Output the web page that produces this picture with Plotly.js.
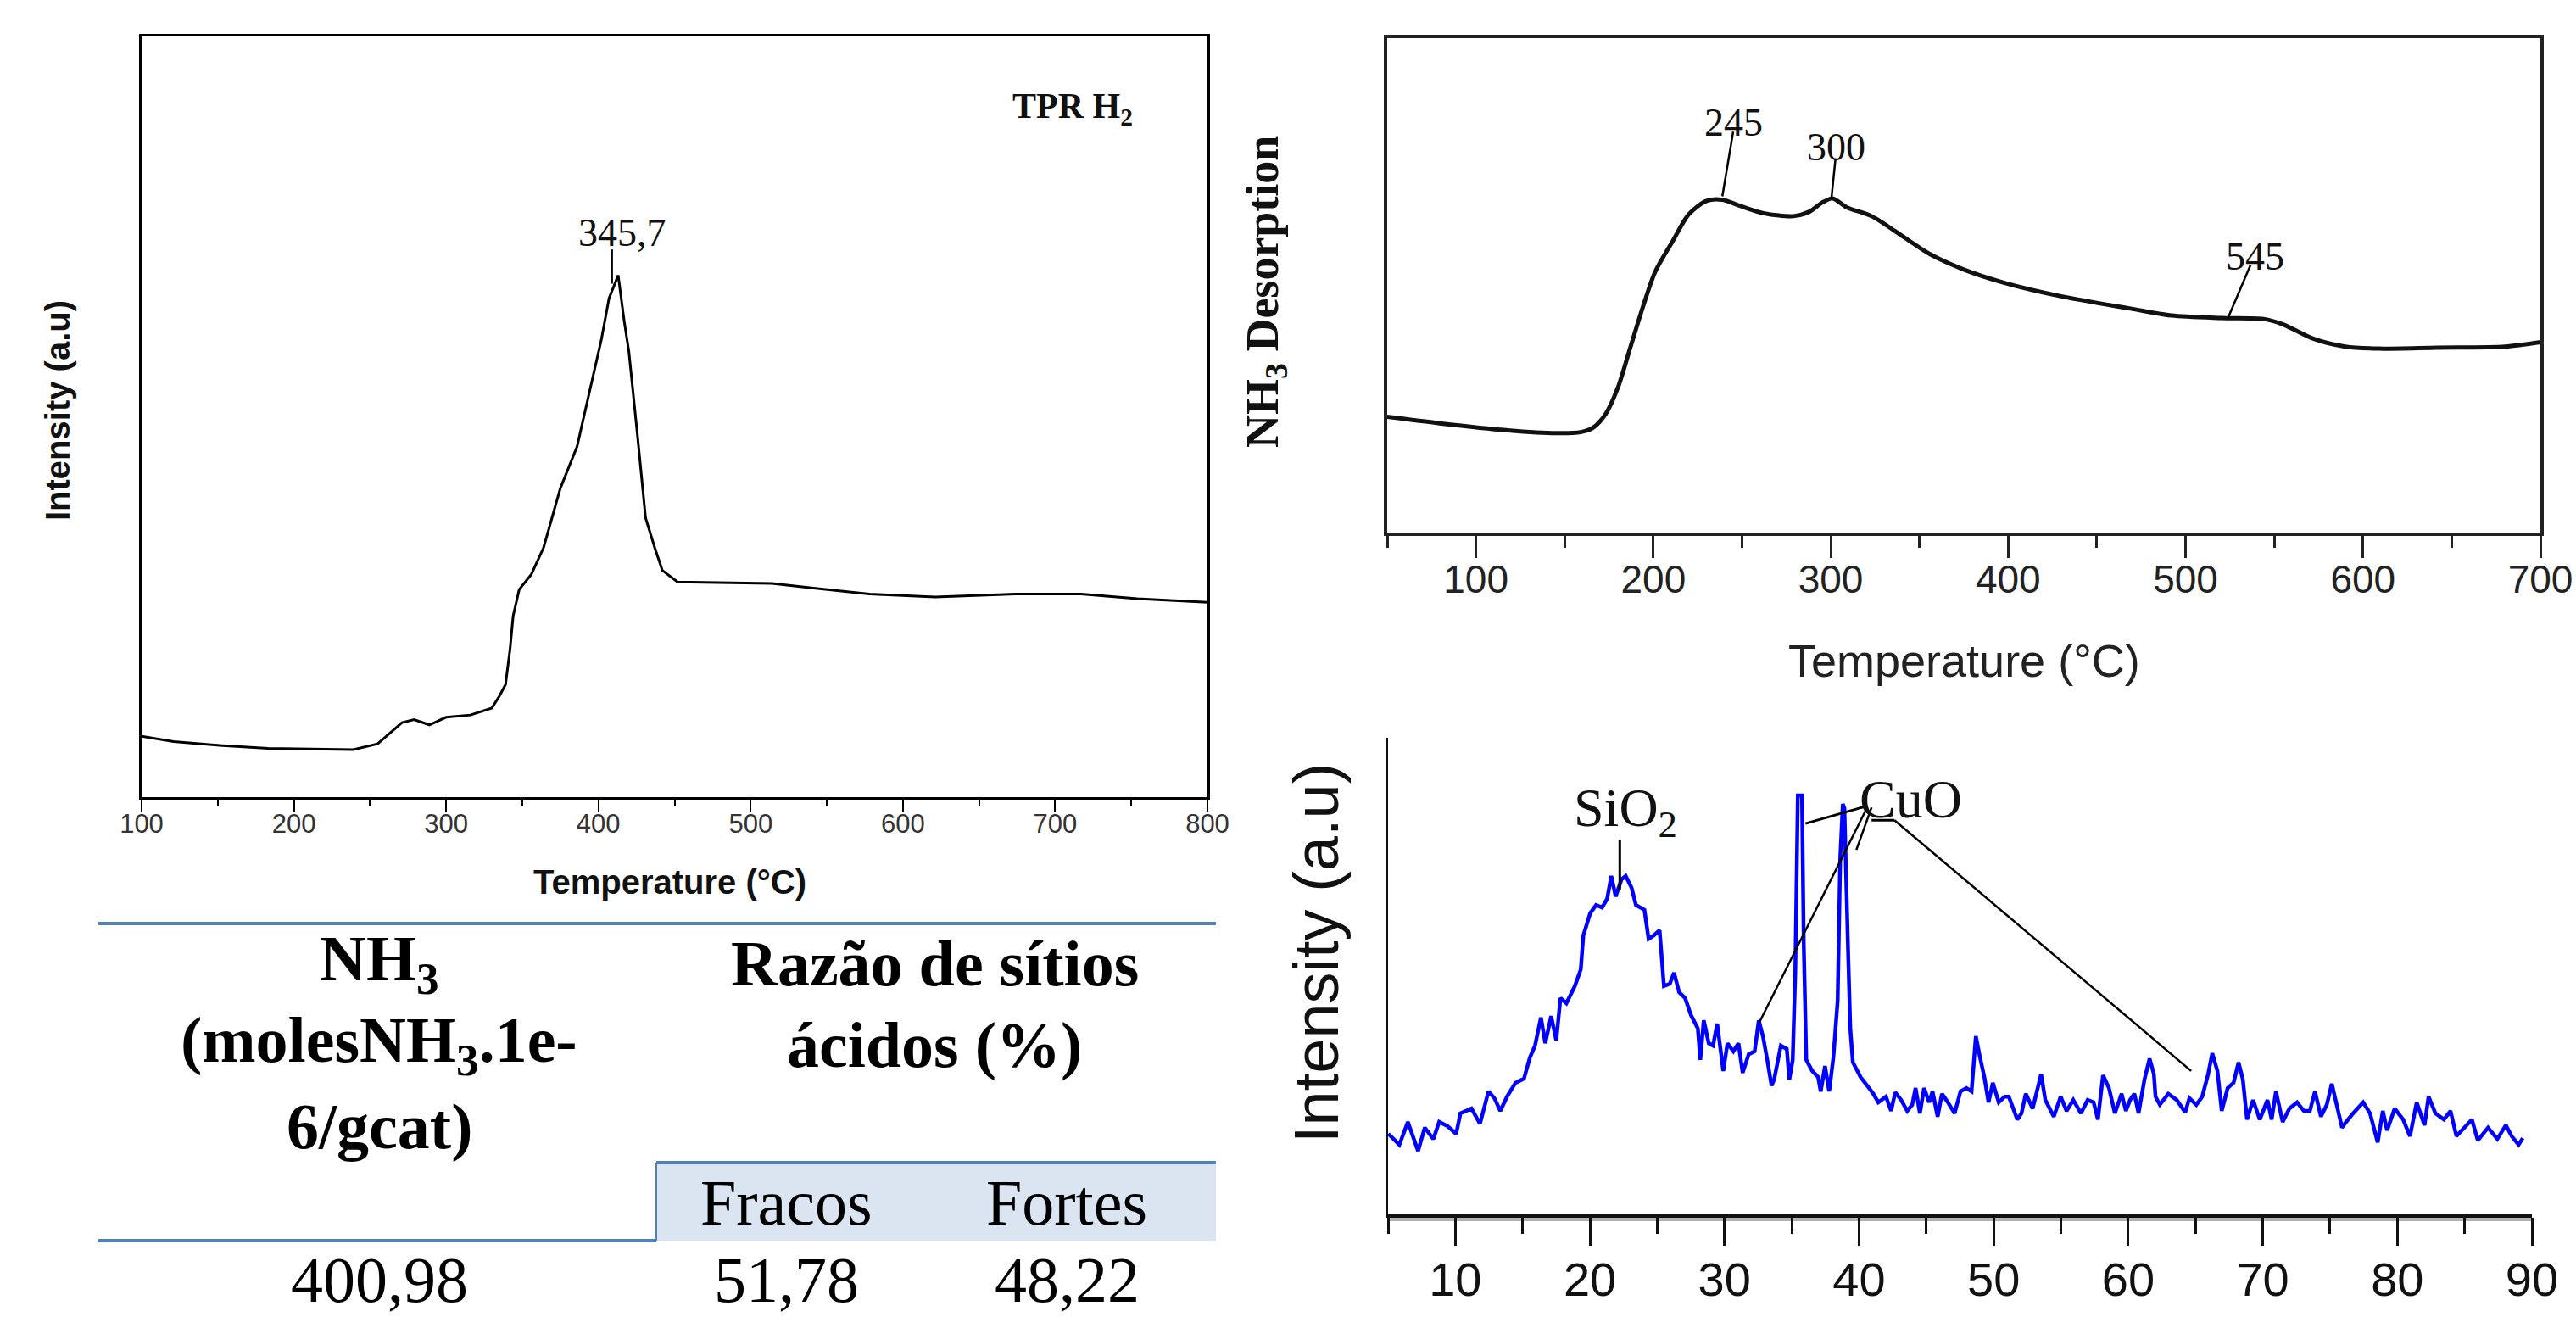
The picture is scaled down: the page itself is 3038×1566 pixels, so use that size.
<!DOCTYPE html>
<html>
<head>
<meta charset="utf-8">
<script src="https://cdn.plot.ly/plotly-3.0.1.min.js"></script>
<style>html,body{margin:0;padding:0;background:#fff;}#chart{width:3038px;height:1566px;}</style>
</head>
<body>
<div id="chart"></div>
<script>
// ---------- TPR H2 (top left) ----------
const tprTemp = [100,121,151,183,239,255,271,279,289,300,316,330,335,339,342,344,348,356,364,375,386,393,402,407,410,413,417,420,426,431,437,442,452,514,540,578,621,674,717,754,800];
const tprInt  = [8.0,7.3,6.8,6.4,6.25,7.0,9.8,10.2,9.5,10.5,10.8,11.7,13.3,14.8,19.5,23.8,27.3,29.3,32.8,40.6,46.1,52.3,60.2,65.6,67.2,68.6,62.5,58.6,46.9,36.7,32.8,29.8,28.3,28.1,27.5,26.7,26.3,26.7,26.7,26.1,25.6];
const tprPeakLabel = "345,7";

// ---------- NH3-TPD (top right) ----------
const tpdTemp = [50,79.5,117,145,159,166,173,180,187,194,201,211,220,230,239,248,262,279,288,295,301,309,323,337,356,375,398,431,469,492,520,544,555,572,590,609,642,680,700];
const tpdInt  = [23.4,22.1,20.7,20.1,20.3,21.2,23.9,29.3,37.4,45.5,52.7,59.0,64.4,67.1,67.3,66.2,64.6,64.0,64.9,66.7,67.6,65.8,64.0,60.8,56.3,53.2,50.5,47.7,45.3,43.9,43.4,43.2,42.1,39.2,37.6,37.2,37.4,37.6,38.5];
const tpdPeakLabels = ["245","300","545"];

// ---------- XRD (bottom right) ----------
const xrdTheta = [5.02,5.46,5.84,6.47,7.23,7.73,8.36,8.80,9.43,10.06,10.38,11.20,11.83,12.46,12.90,13.34,13.84,14.47,15.10,15.54,15.92,16.36,16.68,17.12,17.50,17.81,18.25,18.88,19.32,
19.51,20.02,20.46,20.90,21.28,21.59,21.91,22.35,22.66,23.10,23.42,24.05,24.36,24.74,25.18,25.50,25.94,26.25,26.63,27.07,27.51,28.02,28.20,28.46,28.83,29.15,29.46,29.91,30.22,30.66,31.04,31.35,31.80,32.24,32.55,32.87,33.18,33.50,
33.69,34.19,34.63,34.82,35.07,35.26,35.45,35.76,35.89,36.08,36.52,36.96,37.15,37.47,37.78,38.09,38.41,38.60,38.79,38.91,39.17,39.35,39.54,40.11,40.61,41.06,41.43,42.00,42.38,42.69,43.13,43.58,43.95,44.20,44.52,44.83,45.21,45.46,45.84,46.16,46.60,47.10,47.54,
47.98,48.36,48.68,48.99,49.31,49.62,49.94,50.38,50.82,51.13,51.76,52.07,52.39,52.90,53.53,53.84,54.47,54.98,55.42,55.92,56.49,56.99,57.43,57.75,58.13,58.57,59.01,59.51,59.83,60.14,60.46,60.77,61.21,61.59,61.91,
62.03,62.35,62.98,63.61,64.24,64.55,65.06,65.50,65.94,66.25,66.63,66.95,67.39,67.83,68.20,68.52,68.83,69.28,69.78,70.35,70.66,70.98,71.48,71.98,72.55,73.06,73.50,73.88,74.32,74.76,75.13,75.57,75.89,
76.20,76.71,77.46,77.97,78.54,78.92,79.24,79.80,80.43,80.94,81.44,82.02,82.32,82.83,83.46,83.95,84.39,85.03,85.54,85.98,86.74,87.43,88.06,88.50,89.01,89.32];
const xrdInt = [16.9,15.8,14.6,19.4,13.3,18.2,15.8,19.4,18.5,16.9,21.2,22.2,19.0,25.8,24.4,21.7,24.7,27.6,28.5,32.9,35.4,41.3,35.9,41.6,36.5,45.4,44.3,47.9,51.4,
58.5,63.2,64.9,64.4,66.2,71.0,66.7,70.3,71.0,68.5,64.9,63.9,57.8,58.5,59.6,47.9,48.4,50.7,46.6,45.4,41.8,39.0,32.4,40.7,35.9,35.4,40.0,30.1,35.9,34.2,35.9,29.7,33.6,34.2,40.7,37.2,32.4,27.0,
28.3,35.4,34.7,28.3,32.4,50.7,87.9,87.9,56.8,32.4,30.1,28.8,25.8,31.1,25.8,32.9,44.8,74.6,86.1,85.2,56.8,39.0,31.9,28.8,27.0,25.3,23.5,24.7,21.7,25.6,24.0,21.7,23.0,26.5,21.2,26.5,23.5,25.8,20.5,25.3,23.5,21.2,25.8,
26.5,25.8,37.4,32.9,28.8,23.5,27.6,23.5,24.7,24.7,19.9,21.2,25.3,22.2,29.4,24.0,20.5,24.7,21.7,24.0,21.2,24.0,23.5,19.9,29.2,26.5,21.2,25.3,21.7,24.0,25.3,21.2,28.3,32.7,29.4,
24.7,23.0,25.3,24.0,21.4,24.4,23.0,24.7,29.4,33.8,30.1,21.7,26.5,27.6,31.9,28.3,19.9,24.0,19.9,24.0,19.9,25.8,19.4,22.2,23.5,21.7,21.7,25.8,20.5,23.0,27.4,22.2,18.2,
19.4,21.2,23.5,21.2,15.1,21.7,17.6,22.2,19.9,16.4,23.5,18.7,24.7,21.2,19.9,21.7,16.4,18.2,19.9,15.5,18.2,15.8,18.7,16.4,14.6,16.0];
const xrdLabels = ["SiO<sub>2</sub>","CuO"];

// ---------- Table ----------
const tableHeadNH3 = ["<b>NH<sub>3</sub></b>","<b>(molesNH<sub>3</sub>.1e-</b>","<b>6/gcat)</b>"];
const tableHeadRatio = ["<b>Razão de sítios</b>","<b>ácidos (%)</b>"];
const tableSubHeads = ["Fracos","Fortes"];
const tableValues = ["400,98","51,78","48,22"];

// ---------- helpers (pixel -> paper) ----------
const W = 3038, H = 1566;
const px = v => v / W;
const py = v => 1 - v / H;

const SERIF = "Liberation Serif, Times New Roman, serif";
const SANS = "Liberation Sans, Arial, sans-serif";
const NARROW = "Liberation Sans Narrow, Arial Narrow, Liberation Sans, Arial, sans-serif";

const traces = [
  {x: tprTemp, y: tprInt, xaxis: 'x', yaxis: 'y', type: 'scatter', mode: 'lines',
   line: {color: '#000', width: 3}, hoverinfo: 'skip'},
  {x: tpdTemp, y: tpdInt, xaxis: 'x2', yaxis: 'y2', type: 'scatter', mode: 'lines',
   line: {color: '#111', width: 5, shape: 'spline', smoothing: 0.8}, hoverinfo: 'skip'},
  {x: xrdTheta, y: xrdInt, xaxis: 'x3', yaxis: 'y3', type: 'scatter', mode: 'lines',
   line: {color: '#0000ff', width: 4.5}, hoverinfo: 'skip'}
];

const layout = {
  width: W, height: H,
  margin: {l: 0, r: 0, t: 0, b: 0},
  paper_bgcolor: '#fff', plot_bgcolor: 'rgba(0,0,0,0)',
  showlegend: false,
  xaxis: {domain: [px(167), px(1424)], range: [100, 800], anchor: 'y',
    tick0: 100, dtick: 100, ticks: 'outside', ticklen: 14, tickwidth: 2, tickcolor: '#000',
    minor: {dtick: 50, ticks: 'outside', ticklen: 8, tickwidth: 2, tickcolor: '#000'},
    showline: true, mirror: true, linewidth: 3, linecolor: '#000',
    showgrid: false, zeroline: false, ticklabelstandoff: -12,
    tickfont: {family: SANS, size: 31, color: '#333'}},
  yaxis: {domain: [py(940), py(43)], range: [0, 100], anchor: 'x',
    showticklabels: false, ticks: '', showline: true, mirror: true, linewidth: 3, linecolor: '#000',
    showgrid: false, zeroline: false},
  xaxis2: {domain: [px(1636), px(2996)], range: [50, 700], anchor: 'y2',
    tick0: 0, dtick: 100, ticks: 'outside', ticklen: 26, tickwidth: 3, tickcolor: '#222',
    minor: {dtick: 50, ticks: 'outside', ticklen: 14, tickwidth: 3, tickcolor: '#222'},
    showline: true, mirror: true, linewidth: 4, linecolor: '#222',
    showgrid: false, zeroline: false, ticklabelstandoff: -14,
    tickfont: {family: SANS, size: 46, color: '#222'}},
  yaxis2: {domain: [py(628), py(45)], range: [0, 100], anchor: 'x2',
    showticklabels: false, ticks: '', showline: true, mirror: true, linewidth: 4, linecolor: '#222',
    showgrid: false, zeroline: false},
  xaxis3: {domain: [px(1637), px(2986)], range: [5, 90], anchor: 'y3',
    tick0: 10, dtick: 10, ticks: 'outside', ticklen: 33, tickwidth: 3, tickcolor: '#111',
    minor: {dtick: 5, ticks: 'outside', ticklen: 19, tickwidth: 3, tickcolor: '#111'},
    showline: true, linewidth: 4, linecolor: '#111',
    showgrid: false, zeroline: false, ticklabelstandoff: -8,
    tickfont: {family: NARROW, size: 56, color: '#111'}},
  yaxis3: {domain: [py(1432), py(870)], range: [0, 100], anchor: 'x3',
    showticklabels: false, ticks: '', showline: true, linewidth: 2, linecolor: '#111',
    showgrid: false, zeroline: false},
  shapes: [],
  annotations: []
};

const S = layout.shapes, A = layout.annotations;

// --- TPR annotations ---
S.push({type: 'line', xref: 'x', yref: 'y', x0: 409, x1: 409, y0: 72, y1: 67.5, line: {color: '#000', width: 2}});
A.push({xref: 'x', yref: 'y', x: 415.7, y: 74.2, text: tprPeakLabel, showarrow: false,
  font: {family: SERIF, size: 46, color: '#111'}, xanchor: 'center', yanchor: 'middle'});
A.push({xref: 'paper', yref: 'paper', x: px(1265), y: py(128), text: '<b>TPR H<sub>2</sub></b>', showarrow: false,
  font: {family: SERIF, size: 42, color: '#111'}, xanchor: 'center', yanchor: 'middle'});
A.push({xref: 'paper', yref: 'paper', x: px(790), y: py(1040), text: '<b>Temperature (°C)</b>', showarrow: false,
  font: {family: SANS, size: 40, color: '#111'}, xanchor: 'center', yanchor: 'middle'});
A.push({xref: 'paper', yref: 'paper', x: px(68), y: py(484), text: '<b>Intensity (a.u)</b>', showarrow: false, textangle: -90,
  font: {family: SANS, size: 40, color: '#111'}, xanchor: 'center', yanchor: 'middle'});

// --- TPD annotations ---
const tpdLabelPos = [[245, 82.9], [303, 77.9], [539, 55.9]];
const tpdLines = [[245, 81.1, 238.9, 68.0], [302.7, 75.7, 300.4, 67.6], [536.6, 54.1, 524.0, 43.5]];
tpdPeakLabels.forEach((t, i) => {
  A.push({xref: 'x2', yref: 'y2', x: tpdLabelPos[i][0], y: tpdLabelPos[i][1], text: t, showarrow: false,
    font: {family: SERIF, size: 46, color: '#111'}, xanchor: 'center', yanchor: 'middle'});
  const L = tpdLines[i];
  S.push({type: 'line', xref: 'x2', yref: 'y2', x0: L[0], y0: L[1], x1: L[2], y1: L[3], line: {color: '#000', width: 2.5}});
});
A.push({xref: 'paper', yref: 'paper', x: px(2316), y: py(779), text: 'Temperature (°C)', showarrow: false,
  font: {family: SANS, size: 54, color: '#222'}, xanchor: 'center', yanchor: 'middle'});
A.push({xref: 'paper', yref: 'paper', x: px(1492), y: py(344), text: '<b>NH<sub>3</sub> Desorption</b>', showarrow: false, textangle: -90,
  font: {family: SERIF, size: 54, color: '#111'}, xanchor: 'center', yanchor: 'middle'});

// --- XRD annotations ---
A.push({xref: 'x3', yref: 'y3', x: 22.66, y: 84.5, text: xrdLabels[0], showarrow: false,
  font: {family: SERIF, size: 64, color: '#111'}, xanchor: 'center', yanchor: 'middle'});
A.push({xref: 'x3', yref: 'y3', x: 43.83, y: 87.1, text: xrdLabels[1], showarrow: false,
  font: {family: SERIF, size: 64, color: '#111'}, xanchor: 'center', yanchor: 'middle'});
S.push({type: 'line', xref: 'x3', yref: 'y3', x0: 22.22, y0: 78.6, x1: 22.22, y1: 68.0, line: {color: '#000', width: 3}});
S.push({type: 'line', xref: 'x3', yref: 'y3', x0: 36.02, y0: 82.0, x1: 40.61, y1: 85.7, line: {color: '#000', width: 3}});
S.push({type: 'line', xref: 'x3', yref: 'y3', x0: 40.61, y0: 85.4, x1: 32.61, y1: 40.4, line: {color: '#000', width: 2.5}});
S.push({type: 'line', xref: 'x3', yref: 'y3', x0: 40.93, y0: 85.4, x1: 39.80, y1: 76.5, line: {color: '#000', width: 2.5}});
S.push({type: 'line', xref: 'x3', yref: 'y3', x0: 40.93, y0: 82.7, x1: 42.63, y1: 82.7, line: {color: '#000', width: 3}});
S.push({type: 'line', xref: 'x3', yref: 'y3', x0: 42.63, y0: 82.7, x1: 64.68, y1: 30.1, line: {color: '#000', width: 2.5}});
// gray band under the XRD x axis
S.push({type: 'line', xref: 'paper', yref: 'paper', x0: px(1637), x1: px(2986), y0: py(1437), y1: py(1437), line: {color: '#b0b0b0', width: 6}, layer: 'below'});
A.push({xref: 'paper', yref: 'paper', x: px(1552), y: py(1124), text: 'Intensity (a.u)', showarrow: false, textangle: -90,
  font: {family: SANS, size: 74, color: '#111'}, xanchor: 'center', yanchor: 'middle'});

// --- Table ---
const BLUE = '#4f81bd';
S.push({type: 'rect', xref: 'paper', yref: 'paper', x0: px(774), x1: px(1434), y0: py(1463), y1: py(1371), fillcolor: '#dbe5f1', line: {width: 0}, layer: 'below'});
S.push({type: 'line', xref: 'paper', yref: 'paper', x0: px(116), x1: px(1434), y0: py(1089), y1: py(1089), line: {color: BLUE, width: 4}});
S.push({type: 'line', xref: 'paper', yref: 'paper', x0: px(774), x1: px(1434), y0: py(1371), y1: py(1371), line: {color: BLUE, width: 4}});
S.push({type: 'line', xref: 'paper', yref: 'paper', x0: px(774), x1: px(774), y0: py(1371), y1: py(1463), line: {color: BLUE, width: 2}});
S.push({type: 'line', xref: 'paper', yref: 'paper', x0: px(116), x1: px(774), y0: py(1463), y1: py(1463), line: {color: BLUE, width: 4}});

const tFont = {family: SERIF, size: 76, color: '#000'};
const headY = [1136, 1232, 1328];
tableHeadNH3.forEach((t, i) => A.push({xref: 'paper', yref: 'paper', x: px(447), y: py(headY[i]), text: t, showarrow: false, font: tFont, xanchor: 'center', yanchor: 'middle'}));
tableHeadRatio.forEach((t, i) => A.push({xref: 'paper', yref: 'paper', x: px(1102), y: py(headY[i]), text: t, showarrow: false, font: tFont, xanchor: 'center', yanchor: 'middle'}));
const colX = [447, 927, 1258];
tableSubHeads.forEach((t, i) => A.push({xref: 'paper', yref: 'paper', x: px(colX[i + 1]), y: py(1418), text: t, showarrow: false, font: tFont, xanchor: 'center', yanchor: 'middle'}));
tableValues.forEach((t, i) => A.push({xref: 'paper', yref: 'paper', x: px(colX[i]), y: py(1509), text: t, showarrow: false, font: tFont, xanchor: 'center', yanchor: 'middle'}));

Plotly.newPlot('chart', traces, layout, {staticPlot: true, displayModeBar: false});
</script>
</body>
</html>
